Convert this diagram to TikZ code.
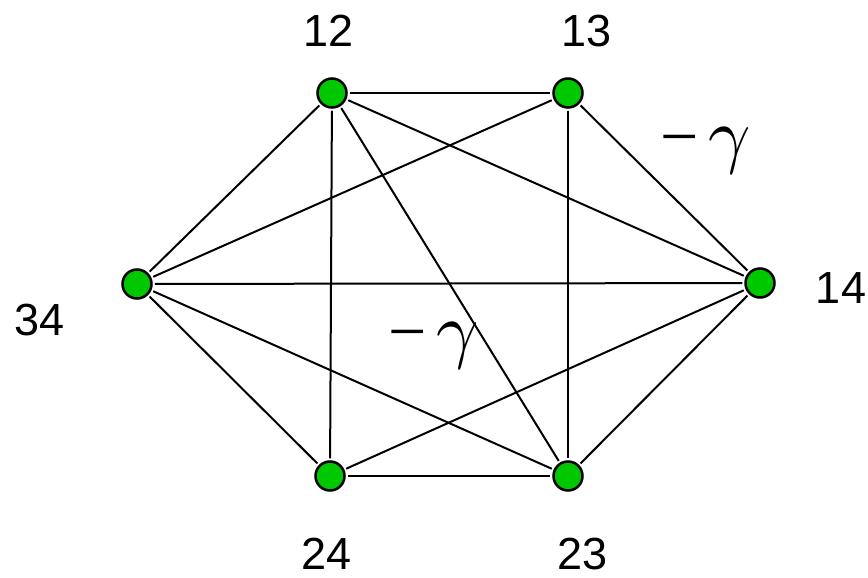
\documentclass[tikz,border=0pt]{standalone}
\usepackage{fontspec}
\setmainfont{Liberation Sans}
\newfontfamily\gfont{Liberation Serif}
\definecolor{vgreen}{RGB}{0,200,0}
\newcommand{\biggam}{\scalebox{7.4}{\fontsize{10}{10}\selectfont$\gamma$}}
\begin{document}
\begin{tikzpicture}[x=1pt,y=-1pt,
  vtx/.style={circle,draw=black,line width=2.5pt,fill=vgreen,minimum size=29pt,inner sep=0pt},
  edge/.style={line width=2pt,shorten <=2pt,shorten >=2pt},
  lbl/.style={font=\fontsize{45}{45}\selectfont,inner sep=0pt},
  wt/.style={font=\gfont\fontsize{68}{68}\selectfont,inner sep=0pt,anchor=base west}]
\useasboundingbox (0,0) rectangle (868,578);
\fill[white] (0,0) rectangle (868,578);
\node[vtx] (n12) at (332,93) {};
\node[vtx] (n13) at (568,93) {};
\node[vtx] (n14) at (760,283) {};
\node[vtx] (n23) at (568,476) {};
\node[vtx] (n24) at (330,476) {};
\node[vtx] (n34) at (137,284) {};
\foreach \a/\b in {n12/n13,n12/n14,n12/n23,n12/n24,n12/n34,n13/n34,n13/n14,n13/n23,n34/n14,n34/n24,n34/n23,n24/n23,n24/n14,n23/n14}
  \draw[edge] (\a) -- (\b);
\node[lbl] (l12) at (329,31) {12};
\node[lbl] (l13) at (587,31) {13};
\node[lbl] (l14) at (841,288) {14};
\node[lbl] (l34) at (40,320) {34};
\node[lbl] (l24) at (327,554) {24};
\node[lbl] (l23) at (583,554) {23};
\node[wt] (w1) at (660,159) {−\hspace{10pt}\biggam};
\node[wt] (w2) at (388,354) {−\hspace{10pt}\biggam};
\end{tikzpicture}
\end{document}
